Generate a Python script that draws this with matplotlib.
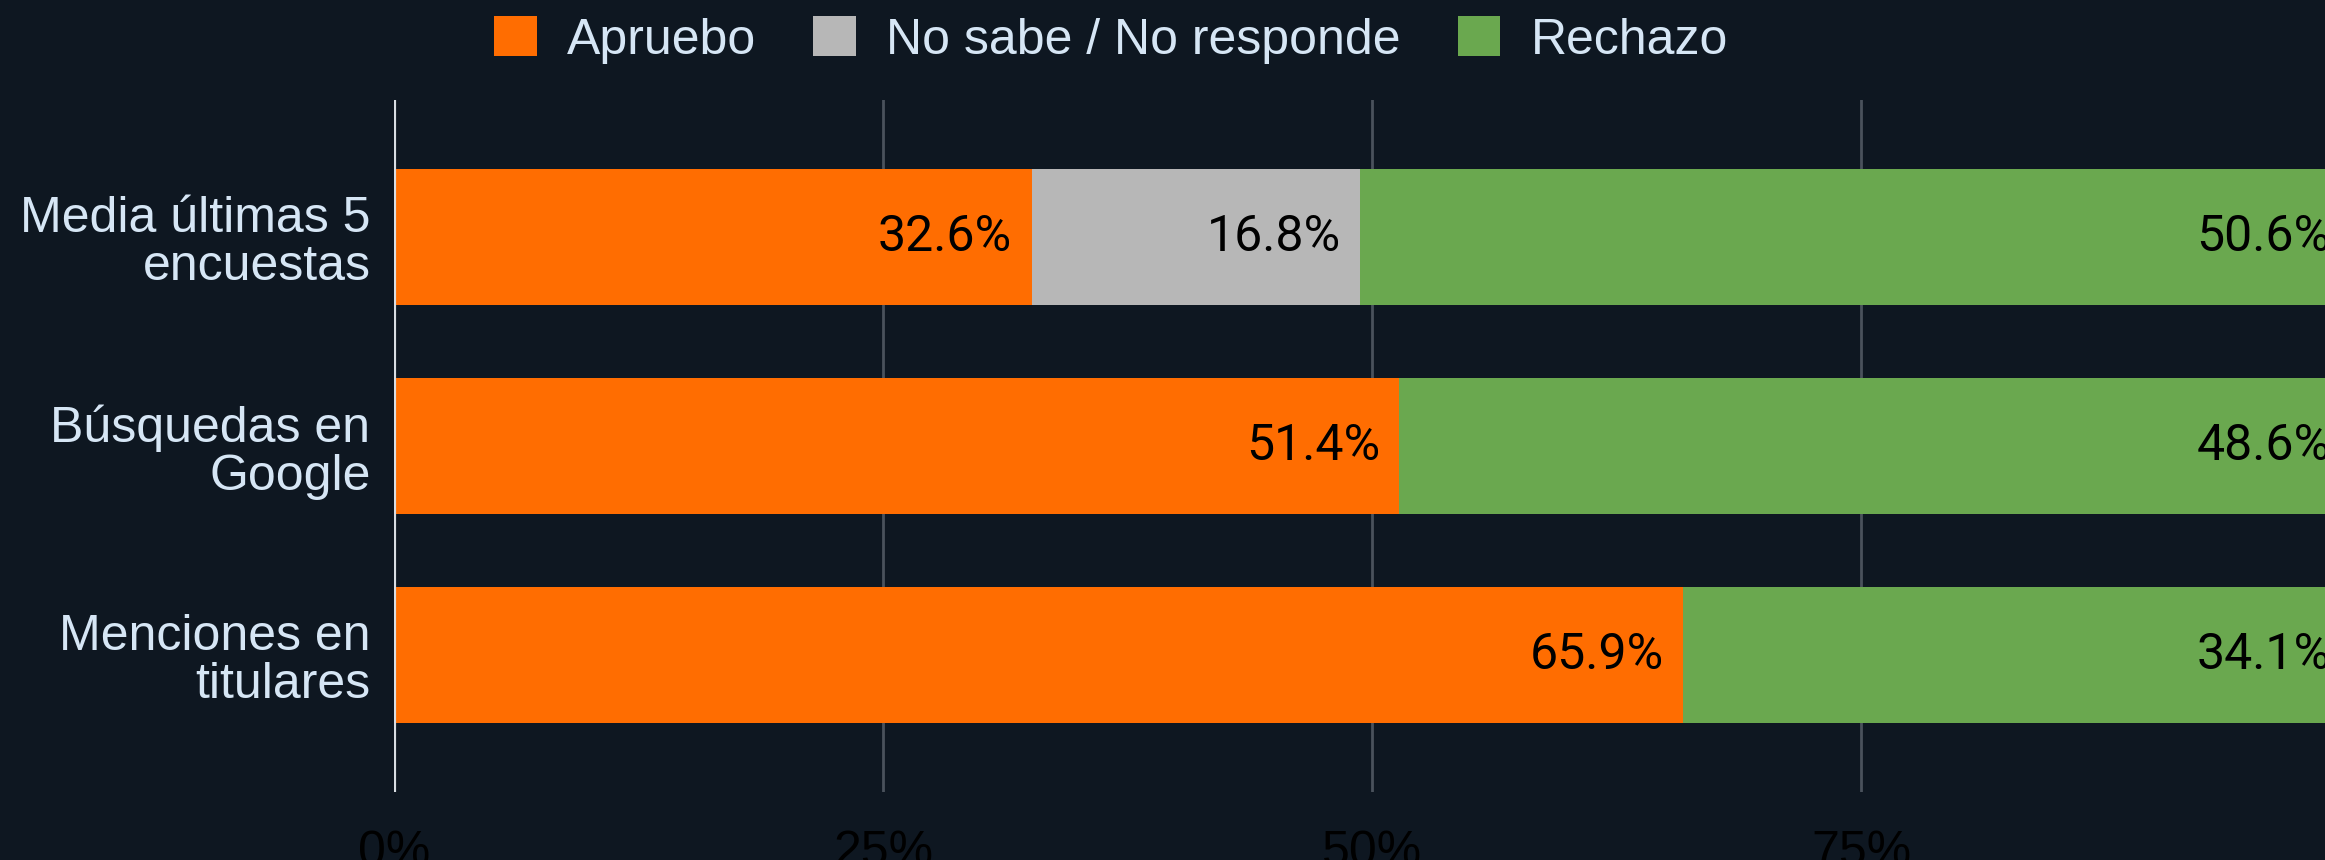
import matplotlib
matplotlib.use("Agg")
import matplotlib.pyplot as plt
from matplotlib.patches import Patch
from matplotlib import font_manager as fm

categories = ["Media últimas 5\nencuestas", "Búsquedas en\nGoogle", "Menciones en\ntitulares"]
series_names = ["Apruebo", "No sabe / No responde", "Rechazo"]
apruebo = [32.6, 51.4, 65.9]
nsnr = [16.8, 0.0, 0.0]
rechazo = [50.6, 48.6, 34.1]
xticks = [0, 25, 50, 75]
xticklabels = ["0%", "25%", "50%", "75%"]

BG = "#0e1721"
TXT = "#d6e6f5"
colors = ["#ff6d01", "#b7b7b7", "#6aa84f"]

names = {f.name for f in fm.fontManager.ttflist}
narrow = "Liberation Sans Narrow" if "Liberation Sans Narrow" in names else "Liberation Sans"

fig = plt.figure(figsize=(23.25, 8.6), dpi=100, facecolor=BG)
ax = fig.add_axes([394/2325, 1-792/860, (2350-394)/2325, (792-100)/860])
ax.set_facecolor(BG)

y = list(range(len(categories)))
left = [0.0]*len(categories)
for vals, col in zip([apruebo, nsnr, rechazo], colors):
    ax.barh(y, vals, left=left, height=0.65, color=col, edgecolor="none", zorder=3)
    for yi, l, v in zip(y, left, vals):
        if v > 0:
            ax.annotate(f"{v:.1f}%", xy=(l+v, yi), xytext=(-14, 0), textcoords="offset points",
                        ha="right", va="center", fontsize=36, family="Roboto", color="#000000", zorder=4)
    left = [a+b for a, b in zip(left, vals)]

ax.set_xlim(0, 100)
ax.set_ylim(2.655, -0.655)
ax.set_yticks(y)
ax.set_yticklabels(categories, fontsize=36, family="Liberation Sans", color=TXT, linespacing=1.05)
ax.set_xticks(xticks)
ax.set_xticklabels(xticklabels, fontsize=40 if narrow.endswith("Narrow") else 36, family=narrow, color="#000000")
ax.tick_params(axis="both", length=0)
ax.tick_params(axis="x", pad=27)
ax.tick_params(axis="y", pad=17)
for s in ax.spines.values():
    s.set_visible(False)
ax.grid(axis="x", color="#4a525c", linewidth=2, zorder=1)
ax.axvline(0, color="#d8dde3", linewidth=3, zorder=5)

handles = [Patch(facecolor=c, edgecolor="none") for c in colors]
leg = fig.legend(handles, series_names, loc="center", bbox_to_anchor=(1111/2325, 1-40/860), ncol=3,
                 frameon=False, fontsize=36, handlelength=0.85, handleheight=0.85,
                 handletextpad=0.6, columnspacing=1.15, borderaxespad=0, borderpad=0)
for t in leg.get_texts():
    t.set_color(TXT)
    t.set_family("Liberation Sans")

fig.savefig("out.png", dpi=100, facecolor=BG)
